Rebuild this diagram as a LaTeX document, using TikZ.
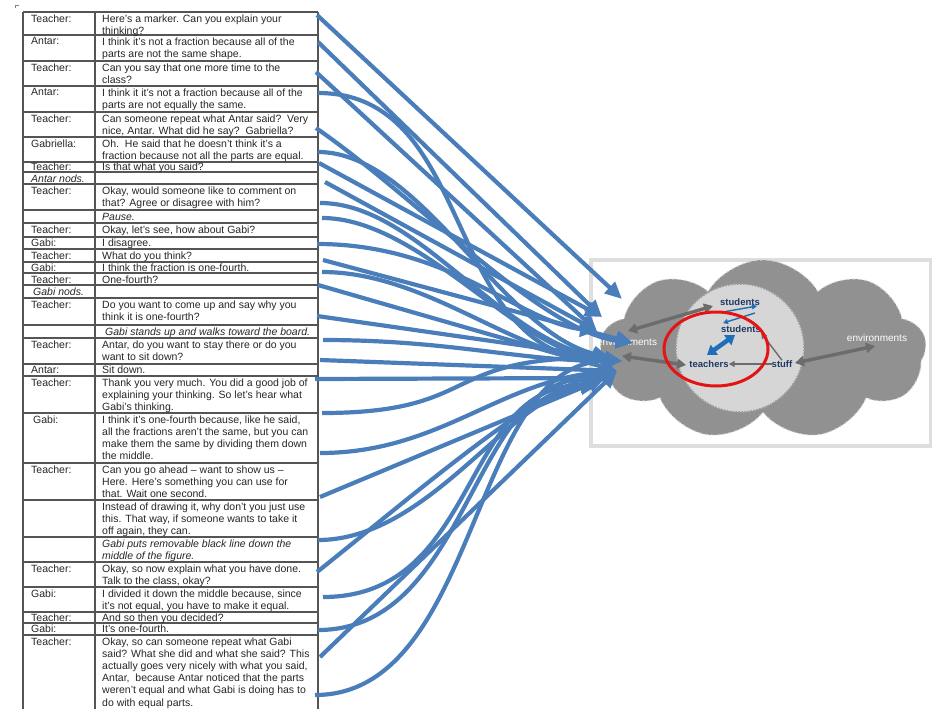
\documentclass[tikz,border=0pt]{standalone}
\usepackage{fontspec}
\setmainfont{Liberation Sans}
\usetikzlibrary{arrows.meta,shapes.symbols,shapes.geometric}
\definecolor{arrowblue}{RGB}{74,126,187}
\definecolor{navyink}{RGB}{31,56,100}
\definecolor{cloudgray}{RGB}{145,145,145}
\definecolor{innergray}{RGB}{214,214,214}
\definecolor{framegray}{RGB}{222,222,222}
\definecolor{linkgray}{RGB}{108,108,108}
\definecolor{diagblue}{RGB}{30,110,185}
\definecolor{ringred}{RGB}{228,20,20}
\definecolor{rulegray}{RGB}{85,85,85}
\newcommand{\cellfont}{\fontsize{10.5}{12.2}\selectfont}
\begin{document}
\begin{tikzpicture}[x=1pt,y=-1pt,
  rule/.style={draw=rulegray,line width=1.1pt},
  cell/.style={anchor=north west,inner sep=0pt,yshift=-1.8pt,font=\cellfont,align=left,text=black!85},
  conn/.style={draw=arrowblue,line width=4.2pt,-{Triangle[length=17pt,width=15pt]}},
  glink/.style={draw=linkgray,line width=3.4pt,{Triangle[length=9pt,width=10pt]}-{Triangle[length=9pt,width=10pt]}},
  thinlink/.style={draw=linkgray,line width=1.4pt,-{Triangle[length=6pt,width=6pt]}},
  lbl/.style={inner sep=0pt,font=\fontsize{9.5}{11}\selectfont\bfseries,text=navyink},
  envlbl/.style={inner sep=0pt,font=\fontsize{10}{12}\selectfont,text=white}
]
\useasboundingbox (0,0) rectangle (932,709);
\clip (0,0) rectangle (932,709);

% small mark
\draw[gray,line width=0.7pt] (15,8) -- (15,5) -- (19,5);

% ---------- table rules ----------
\foreach \y in {12,35,61,86,112,137,162,172,184,210,223,237,249,262,273,285,298,325,338,364,376,413,463,500,537,562,587,612,623,635}
  \draw[rule] (23,\y) -- (318,\y);
\draw[rule] (23,12) -- (23,715);
\draw[rule] (95,12) -- (95,715);
\draw[rule] (318,12) -- (318,715);

% ---------- table text ----------
\node[cell] (w1) at (31,12.5) {Teacher:};
\node[cell] (c1) at (102,12.5) {Here’s a marker. Can you explain your\\thinking?};
\node[cell] (w2) at (31,35.5) {Antar:};
\node[cell] (c2) at (102,35.5) {I think it’s not a fraction because all of the\\parts are not the same shape.};
\node[cell] (w3) at (31,61.5) {Teacher:};
\node[cell] (c3) at (102,61.5) {Can you say that one more time to the\\class?};
\node[cell] (w4) at (31,86.5) {Antar:};
\node[cell] (c4) at (102,86.5) {I think it it’s not a fraction because all of the\\parts are not equally the same.};
\node[cell] (w5) at (31,112.5) {Teacher:};
\node[cell] (c5) at (102,112.5) {Can someone repeat what Antar said?\ \ Very\\nice, Antar. What did he say?\ \ Gabriella?};
\node[cell] (w6) at (31,137.5) {Gabriella:};
\node[cell] (c6) at (102,137.5) {Oh.\ \ He said that he doesn’t think it’s a\\fraction because not all the parts are equal.};
\node[cell] (w7) at (31,161) {Teacher:};
\node[cell] (c7) at (102,161) {Is that what you said?};
\node[cell] (w8) at (31,172.5) {\itshape Antar nods.};
\node[cell] (w9) at (31,184.5) {Teacher:};
\node[cell] (c9) at (102,184.5) {Okay, would someone like to comment on\\that? Agree or disagree with him?};
\node[cell] (c10) at (102,211) {\itshape Pause.};
\node[cell] (w11) at (31,224) {Teacher:};
\node[cell] (c11) at (102,224) {Okay, let’s see, how about Gabi?};
\node[cell] (w12) at (31,237) {Gabi:};
\node[cell] (c12) at (102,237) {I disagree.};
\node[cell] (w13) at (31,249.5) {Teacher:};
\node[cell] (c13) at (102,249.5) {What do you think?};
\node[cell] (w14) at (31,261.5) {Gabi:};
\node[cell] (c14) at (102,261.5) {I think the fraction is one-fourth.};
\node[cell] (w15) at (31,273.5) {Teacher:};
\node[cell] (c15) at (102,273.5) {One-fourth?};
\node[cell] (w16) at (33,286) {\itshape Gabi nods.};
\node[cell] (w17) at (31,298.5) {Teacher:};
\node[cell] (c17) at (102,298.5) {Do you want to come up and say why you\\think it is one-fourth?};
\node[cell] (c18) at (105,325.5) {\itshape Gabi stands up and walks toward the board.};
\node[cell] (w19) at (31,338.5) {Teacher:};
\node[cell] (c19) at (102,338.5) {Antar, do you want to stay there or do you\\want to sit down?};
\node[cell] (w20) at (31,364) {Antar:};
\node[cell] (c20) at (102,364) {Sit down.};
\node[cell] (w21) at (31,376.5) {Teacher:};
\node[cell] (c21) at (102,376.5) {Thank you very much. You did a good job of\\explaining your thinking. So let’s hear what\\Gabi’s thinking.};
\node[cell] (w22) at (33,413.5) {Gabi:};
\node[cell] (c22) at (102,413.5) {I think it’s one-fourth because, like he said,\\all the fractions aren’t the same, but you can\\make them the same by dividing them down\\the middle.};
\node[cell] (w23) at (31,463.5) {Teacher:};
\node[cell] (c23) at (102,463.5) {Can you go ahead – want to show us –\\Here. Here’s something you can use for\\that. Wait one second.};
\node[cell] (c24) at (102,500.5) {Instead of drawing it, why don’t you just use\\this. That way, if someone wants to take it\\off again, they can.};
\node[cell] (c25) at (102,537.5) {\itshape Gabi puts removable black line down the\\\itshape middle of the figure.};
\node[cell] (w26) at (31,562.5) {Teacher:};
\node[cell] (c26) at (102,562.5) {Okay, so now explain what you have done.\\Talk to the class, okay?};
\node[cell] (w27) at (31,587.5) {Gabi:};
\node[cell] (c27) at (102,587.5) {I divided it down the middle because, since\\it’s not equal, you have to make it equal.};
\node[cell] (w28) at (31,611.5) {Teacher:};
\node[cell] (c28) at (102,611.5) {And so then you decided?};
\node[cell] (w29) at (31,623) {Gabi:};
\node[cell] (c29) at (102,623) {It’s one-fourth.};
\node[cell] (w30) at (31,635.5) {Teacher:};
\node[cell] (c30) at (102,635.5) {Okay, so can someone repeat what Gabi\\said? What she did and what she said? This\\actually goes very nicely with what you said,\\Antar,\ \ because Antar noticed that the parts\\weren’t equal and what Gabi is doing has to\\do with equal parts.};

% ---------- cloud picture ----------
\node[draw=framegray,line width=3.5pt,fill=white,minimum width=340,minimum height=186,inner sep=0pt,anchor=north west] (frame) at (589,258) {};
\node[cloud,cloud puffs=9,cloud puff arc=120,cloud ignores aspect,minimum width=326,minimum height=180,fill=cloudgray,draw=gray!40,dashed,line width=0.9pt,inner sep=0pt] (cloud) at (763,350) {};
\node[circle,minimum size=128,fill=innergray,draw=gray!75,dash pattern=on 1.6pt off 1.4pt,line width=1.6pt,inner sep=0pt] (core) at (740,348) {};

\node[envlbl] (envL) at (627,342) {environments};
\node[envlbl] (envR) at (877,338) {environments};
\node[lbl] (stuA) at (740,302) {students};
\node[lbl] (stuB) at (741,329) {students};
\node[lbl] (tea) at (709,364) {teachers};
\node[lbl] (stf) at (782,364) {stuff};

\coordinate (gl1a) at (628,331);
\coordinate (gl1b) at (713,306);
\coordinate (gl2a) at (622,356);
\coordinate (gl2b) at (686,365);
\coordinate (gl3a) at (795,363);
\coordinate (gl3b) at (875,346);
\draw[glink] (gl1a) -- (gl1b);
\draw[glink] (gl2a) -- (gl2b);
\draw[glink] (gl3a) -- (gl3b);
\draw[thinlink] (stf.west) -- (tea.east);
\draw[thinlink] (stf.north) -- (stuB.south east);

\coordinate (xa1) at (723,312);
\coordinate (xa2) at (757,306);
\coordinate (xb1) at (755,313);
\coordinate (xb2) at (723,323);
\draw[draw=diagblue,line width=1.4pt,-{Triangle[length=5pt,width=5pt]}] (xa1) -- (xa2);
\draw[draw=diagblue,line width=1.4pt,-{Triangle[length=5pt,width=5pt]}] (xb1) -- (xb2);
\coordinate (ba) at (707,355);
\coordinate (bb) at (735,335);
\draw[draw=diagblue,line width=4.5pt,{Triangle[length=9pt,width=12pt]}-{Triangle[length=9pt,width=12pt]}] (ba) -- (bb);

\node[ellipse,draw=ringred,line width=3pt,minimum width=104,minimum height=74,inner sep=0pt] (ring) at (716,349) {};

% ---------- blue connectors ----------
\coordinate (tA) at (622,299);
\coordinate (tB) at (602,317);
\coordinate (tC) at (597,331);
\coordinate (tD) at (633,343);
\coordinate (tE) at (622,361);
\coordinate (tF) at (610,358);
\coordinate (tG) at (617,371);
\coordinate (tH) at (605,378);
\coordinate (tI) at (598,385);

\coordinate (s1) at (317,15);
\coordinate (s2) at (318,42);
\coordinate (s3) at (316,72);
\coordinate (s4) at (318,93);
\coordinate (s5) at (316,128);
\coordinate (s6) at (318,152);
\coordinate (s7) at (319,163);
\coordinate (s8) at (325,182);
\coordinate (s9) at (320,203);
\coordinate (s10) at (322,218);
\coordinate (s11) at (317,244);
\coordinate (s12) at (323,260);
\coordinate (s13) at (322,272);
\coordinate (s14) at (318,285);
\coordinate (s15) at (317,316);
\coordinate (s16) at (323,340);
\coordinate (s17) at (320,360);
\coordinate (s18) at (315,379);
\coordinate (s19) at (322,413);
\coordinate (s20) at (320,453);
\coordinate (s21) at (320,497);
\coordinate (s22) at (318,540);
\coordinate (s23) at (317,572);
\coordinate (s24) at (323,597);
\coordinate (s25) at (318,630);
\coordinate (s26) at (320,657);
\coordinate (s27) at (315,695);

\draw[conn] (s1) -- (tA);
\draw[conn] (s2) -- (tB);
\draw[conn] (s3) -- (tC);
\draw[conn] (s4) .. controls (480,93) and (440,361) .. (tE);
\draw[conn] (s5) .. controls (420,200) and (540,330) .. (tD);
\draw[conn] (s6) .. controls (420,152) and (500,330) .. (tF);
\draw[conn] (s7) -- (tB);
\draw[conn] (s8) -- (tC);
\draw[conn] (s9) .. controls (420,203) and (500,345) .. (tE);
\draw[conn] (s10) .. controls (420,218) and (520,352) .. (tF);
\draw[conn] (s11) .. controls (450,244) and (520,322) .. (tC);
\draw[conn] (s12) -- (tD);
\draw[conn] (s13) .. controls (430,272) and (520,361) .. (tE);
\draw[conn] (s14) -- (tG);
\draw[conn] (s15) -- (tF);
\draw[conn] (s16) .. controls (450,340) and (520,361) .. (tE);
\draw[conn] (s17) -- (tG);
\draw[conn] (s18) -- (tH);
\draw[conn] (s19) .. controls (480,413) and (440,358) .. (tF);
\draw[conn] (s20) .. controls (440,453) and (500,380) .. (tG);
\draw[conn] (s21) -- (tH);
\draw[conn] (s22) .. controls (430,540) and (510,395) .. (tI);
\draw[conn] (s23) .. controls (420,490) and (540,385) .. (tG);
\draw[conn] (s24) .. controls (480,597) and (460,385) .. (tI);
\draw[conn] (s25) .. controls (470,630) and (470,378) .. (tH);
\draw[conn] (s26) -- (tG);
\draw[conn] (s27) .. controls (480,695) and (470,361) .. (tE);
\end{tikzpicture}
\end{document}
